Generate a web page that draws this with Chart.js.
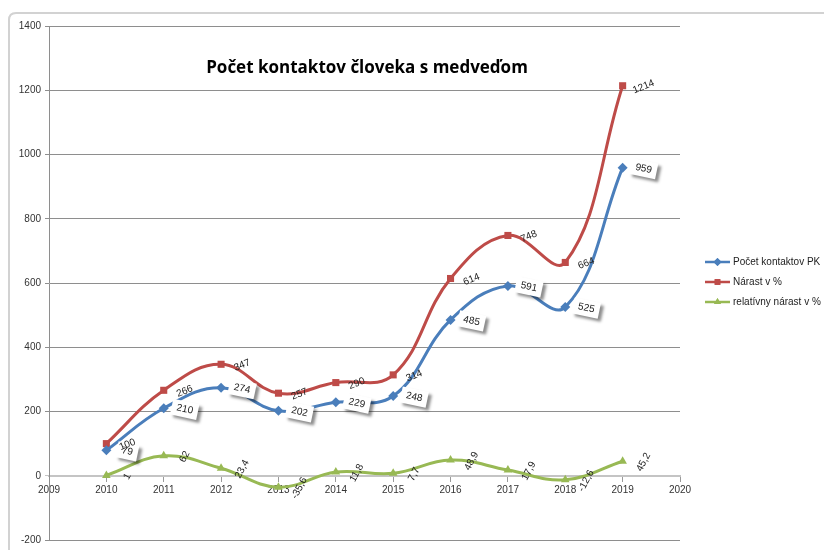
<!DOCTYPE html>
<html>
<head>
<meta charset="utf-8">
<script src="https://cdn.jsdelivr.net/npm/chart.js@4.4.0/dist/chart.umd.min.js"></script>
<style>
  body { margin: 0; background: #fff; }
  #wrap { position: relative; width: 824px; height: 550px; }
</style>
</head>
<body>
<div id="wrap"><canvas id="chart-kontakty" width="824" height="550"></canvas></div>
<script>
// data
var roky = [2010, 2011, 2012, 2013, 2014, 2015, 2016, 2017, 2018, 2019];
var pocetKontaktov = [79, 210, 274, 202, 229, 248, 485, 591, 525, 959];
var narast = [100, 266, 347, 257, 290, 314, 614, 748, 664, 1214];
var relativnyNarast = [1, 62, 23.4, -35.6, 11.8, 7.7, 48.9, 17.9, -12.6, 45.2];

var nazvy = ['Počet kontaktov PK', 'Nárast v %', 'relatívny nárast v %'];
var farby = ['#4a7ebb', '#be4b48', '#98b954'];
var znacky = ['rectRot', 'rect', 'triangle'];
var titulok = 'Počet kontaktov človeka s medveďom';

function body(vals) {
    return roky.map(function (r, i) { return { x: r, y: vals[i] }; });
}

function fmt(v) {
    return String(v).replace('.', ',');
}

// data labels like excel does it: rotated, blue ones in a shadowed box
var labelsPlugin = {
    id: 'labels',
    afterDatasetsDraw: function (chart) {
        var ctx = chart.ctx;
        var setup = [
            { rot: 12, box: true },
            { rot: -22, box: false },
            { rot: -62, box: false }
        ];
        ctx.save();
        ctx.font = '10px "Liberation Sans", Arial, sans-serif';
        ctx.textAlign = 'center';
        ctx.textBaseline = 'middle';
        chart.data.datasets.forEach(function (ds, di) {
            var meta = chart.getDatasetMeta(di);
            meta.data.forEach(function (pt, i) {
                var txt = fmt(ds.data[i].y);
                var s = setup[di];
                ctx.save();
                ctx.translate(pt.x + 21, pt.y + 1);
                ctx.rotate(s.rot * Math.PI / 180);
                if (s.box) {
                    var w = ctx.measureText(txt).width + 10;
                    ctx.shadowColor = 'rgba(0,0,0,0.45)';
                    ctx.shadowBlur = 3;
                    ctx.shadowOffsetX = 3;
                    ctx.shadowOffsetY = 3;
                    ctx.fillStyle = '#fff';
                    ctx.fillRect(-w / 2, -8, w, 16);
                    ctx.shadowColor = 'transparent';
                }
                ctx.fillStyle = '#222';
                ctx.fillText(txt, 0, 0);
                ctx.restore();
            });
        });
        ctx.restore();
    }
};

var framePlugin = {
    id: 'frame',
    beforeDraw: function (chart) {
        var ctx = chart.ctx;
        ctx.save();
        ctx.strokeStyle = '#d2d2d2';
        ctx.lineWidth = 2;
        ctx.beginPath();
        ctx.moveTo(9, 570);
        ctx.lineTo(9, 20);
        ctx.quadraticCurveTo(9, 13, 16, 13);
        ctx.lineTo(840, 13);
        ctx.stroke();
        ctx.restore();
    },
    afterDraw: function (chart) {
        var ctx = chart.ctx;
        ctx.save();
        // title
        ctx.fillStyle = '#000';
        ctx.font = 'bold 17px "Open Sans", "Noto Sans", sans-serif';
        ctx.textAlign = 'center';
        ctx.textBaseline = 'middle';
        ctx.fillText(titulok, 367, 68);
        // legend
        ctx.font = '10px "Liberation Sans", Arial, sans-serif';
        ctx.textAlign = 'left';
        for (var i = 0; i < nazvy.length; i++) {
            var y = 262 + i * 20;
            ctx.strokeStyle = farby[i];
            ctx.lineWidth = 2.5;
            ctx.beginPath();
            ctx.moveTo(705, y);
            ctx.lineTo(730, y);
            ctx.stroke();
            ctx.fillStyle = farby[i];
            ctx.beginPath();
            Chart.helpers.drawPoint(ctx, { pointStyle: znacky[i], radius: 4, rotation: 0, borderWidth: 0 }, 717.5, y);
            ctx.fill();
            ctx.fillStyle = '#222';
            ctx.fillText(nazvy[i], 733, y);
        }
        ctx.restore();
    }
};

var datasety = [pocetKontaktov, narast, relativnyNarast].map(function (vals, i) {
    return {
        label: nazvy[i],
        data: body(vals),
        borderColor: farby[i],
        backgroundColor: farby[i],
        borderWidth: 3,
        tension: 0.4,
        pointStyle: znacky[i],
        pointRadius: 5,
        pointBorderWidth: 0
    };
});

var ctx = document.getElementById('chart-kontakty').getContext('2d');
var graf = new Chart(ctx, {
    type: 'line',
    data: { datasets: datasety },
    options: {
        responsive: false,
        animation: false,
        layout: { padding: { left: 0, top: 26, right: 144, bottom: 7 } },
        plugins: {
            legend: { display: false },
            tooltip: { enabled: false }
        },
        scales: {
            x: {
                type: 'linear',
                position: { y: 0 },
                min: 2009,
                max: 2020,
                ticks: {
                    stepSize: 1,
                    color: '#333',
                    padding: 3,
                    font: { family: '"Liberation Sans", Arial, sans-serif', size: 10 },
                    callback: function (v) { return String(v); }
                },
                grid: { drawOnChartArea: false, tickLength: 5, color: '#9a9a9a' },
                border: { color: '#c4c4c4', width: 2 }
            },
            y: {
                min: -200,
                max: 1400,
                afterFit: function (scale) { scale.width = 49; },
                ticks: {
                    stepSize: 200,
                    color: '#333',
                    padding: 4,
                    font: { family: '"Liberation Sans", Arial, sans-serif', size: 10 },
                    callback: function (v) { return String(v); }
                },
                grid: {
                    color: function (c) { return c.tick && c.tick.value === 0 ? '#c4c4c4' : '#8e8e8e'; },
                    tickLength: 4
                },
                border: { color: '#8e8e8e' }
            }
        }
    },
    plugins: [framePlugin, labelsPlugin]
});
</script>
</body>
</html>
